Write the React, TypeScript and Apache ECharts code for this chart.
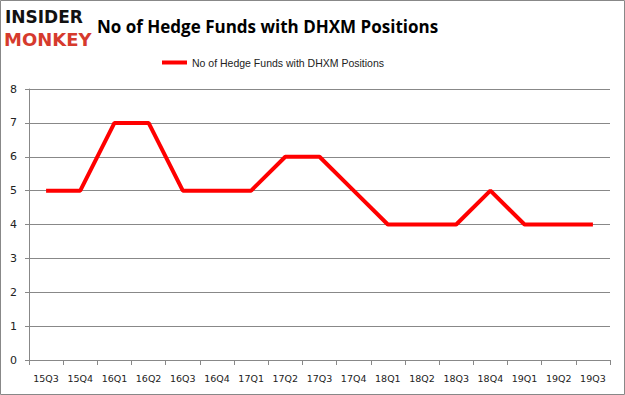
import React, { useEffect, useRef } from "react";
import * as echarts from "echarts";

const categories = ["15Q3","15Q4","16Q1","16Q2","16Q3","16Q4","17Q1","17Q2","17Q3","17Q4","18Q1","18Q2","18Q3","18Q4","19Q1","19Q2","19Q3"];
const values = [5,5,7,7,5,5,5,6,6,5,4,4,4,5,4,4,4];
const seriesName = "No of Hedge Funds with DHXM Positions";
const titleText = "No of Hedge Funds with DHXM Positions";

export default function App() {
  const ref = useRef<HTMLDivElement>(null);
  useEffect(() => {
    const chart = echarts.init(ref.current!, null, { renderer: "svg" });
    chart.setOption({
      animation: false,
      backgroundColor: "#ffffff",
      title: {
        text: titleText,
        left: 92,
        top: 13,
        textStyle: { fontFamily: "Open Sans", fontWeight: "bold", fontSize: 17, color: "#000" },
      },
      legend: {
        data: [seriesName],
        top: 52,
        left: 157,
        itemWidth: 25,
        itemHeight: 4,
        itemGap: 2,
        icon: "rect",
        textStyle: { fontFamily: "Liberation Sans", fontSize: 10.5, color: "#222" },
      },
      grid: { left: 29, right: 15, top: 89, bottom: 35, containLabel: false },
      xAxis: {
        type: "category",
        data: categories,
        boundaryGap: true,
        axisLine: { lineStyle: { color: "#888", width: 1 } },
        axisTick: { show: true, alignWithLabel: false, length: 5, lineStyle: { color: "#888" } },
        axisLabel: { interval: 0, fontFamily: "DejaVu Sans", fontSize: 9.5, color: "#222", margin: 13 },
      },
      yAxis: {
        type: "value",
        min: 0,
        max: 8,
        interval: 1,
        axisLine: { show: true, lineStyle: { color: "#888", width: 1 } },
        axisTick: { show: true, length: 4, lineStyle: { color: "#888" } },
        splitLine: { lineStyle: { color: "#888", width: 1 } },
        axisLabel: { fontFamily: "DejaVu Sans", fontSize: 11, color: "#222", margin: 12 },
      },
      series: [
        {
          name: seriesName,
          type: "line",
          data: values,
          symbol: "none",
          lineStyle: { color: "#ff0000", width: 4 },
          itemStyle: { color: "#ff0000" },
        },
      ],
      graphic: [
        {
          type: "rect",
          shape: { x: 0.5, y: 0.5, width: 624, height: 394 },
          style: { fill: "none", stroke: "#888", lineWidth: 1 },
          silent: true,
        },
        {
          type: "text",
          x: 5,
          y: 8,
          style: { text: "INSIDER", font: "bold 17px 'DejaVu Sans'", fill: "#111" },
        },
        {
          type: "text",
          x: 4,
          y: 30,
          style: { text: "MONKEY", font: "bold 18px 'DejaVu Sans'", fill: "#d63a2d" },
        },
      ],
    });
    return () => chart.dispose();
  }, []);
  return <div ref={ref} style={{ width: 625, height: 395, position: "absolute", left: 0, top: 0 }} />;
}
